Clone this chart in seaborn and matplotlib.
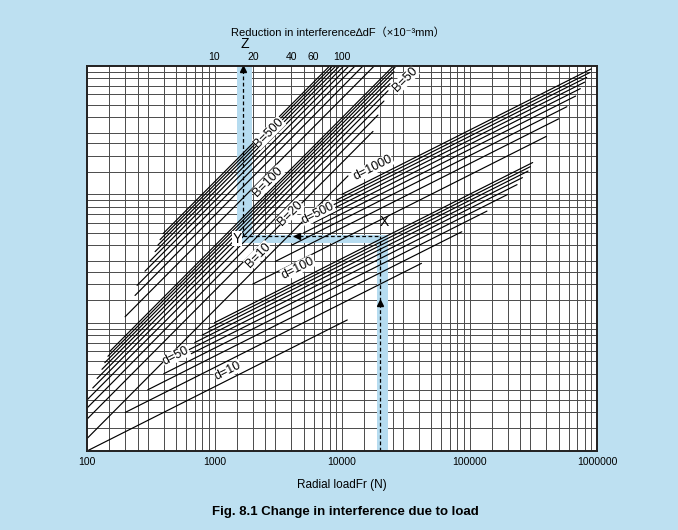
import numpy as np
import pandas as pd
import matplotlib
matplotlib.use("Agg")
import matplotlib.pyplot as plt
import seaborn as sns

sns.set_theme(style="white")
plt.rcParams["font.family"] = ["Liberation Sans", "DejaVu Sans", "Noto Sans CJK JP"]
plt.rcParams["text.color"] = "black"
plt.rcParams["xtick.color"] = "black"
plt.rcParams["axes.labelcolor"] = "black"

# ---------------- data ----------------
# d-lines (shaft diameter): start/end of each line as (Fr, y) on the unlabeled y scale
d_values = [10, 20, 30, 40, 50, 60, 70, 80, 90, 100,
            200, 300, 400, 500, 600, 700, 800, 900, 1000]
d_fr_start = [100, 200, 300, 400, 500, 600, 700, 800, 900, 1000,
              2000, 3000, 4000, 5000, 6000, 7000, 8000, 9000, 10000]
d_y_start = [10, 20, 30, 40, 50, 60, 70, 80, 90, 100,
             200, 300, 400, 500, 600, 700, 800, 900, 1000]
d_fr_end = [11000, 42000, 87000, 137000, 200000, 236000, 260000, 288000, 300000, 313000,
            400000, 500000, 580000, 680000, 740000, 800000, 830000, 880000, 900000]
d_y_end = [105, 290, 511, 740, 1000, 1190, 1349, 1518, 1643, 1769,
           2828, 3873, 4817, 5831, 6663, 7483, 8149, 8899, 9487]

# B-lines (bearing width): start/end as (position on Fr scale, y)
B_values = [10, 20, 30, 40, 50, 60, 70, 80, 90, 100,
            200, 300, 400, 500, 600, 700, 800, 900, 1000]
B_fr_start = [100, 100, 100, 100, 111, 120, 131, 138, 146, 151,
              199, 238, 247, 285, 312, 342, 360, 374, 395]
B_y_start = [12.5, 17.7, 21.6, 25.0, 31.0, 36.7, 43.3, 48.8, 54.7, 59.7,
             111.2, 162.9, 195.3, 251.9, 302.1, 357.7, 402.5, 443.5, 493.8]
B_fr_end = [11140, 17500, 19140, 21330, 22960, 23790, 24660, 25560, 26050, 25300,
            17890, 14610, 12650, 11310, 10330, 9562, 8945, 8433, 8000]
B_y_end = [1392, 3093, 4143, 5333, 6417, 7284, 8155, 9036, 9768, 10000,
           10000, 10000, 10000, 10000, 10000, 10000, 10000, 10000, 10000]

labels_text = ["B=500", "B=100", "B=20", "B=10", "B=50",
               "d=1000", "d=500", "d=100", "d=50", "d=10"]
labels_x = [2673, 2630, 3908, 2193, 31200, 17500, 6486, 4519, 499, 1276]
labels_y = [3013, 1250, 716, 337, 7800, 1607, 716, 267, 55, 42]
labels_rot = [45, 45, 45, 45, 45, 26.7, 26.7, 26.7, 26.7, 26.7]

# worked example X -> Y -> Z
ex_fr = 20000
ex_y = 470
ex_z = 1675

bottom_ticks = [100, 1000, 10000, 100000, 1000000]
bottom_labels = ["100", "1000", "10000", "100000", "1000000"]
top_ticks = [10, 20, 40, 60, 100]

grid_mult = [1, 1.5, 2, 2.5, 3, 4, 5, 6, 7, 8, 9]

BG = "#bde0f1"
BAND = "#b6dcf0"

# ---------------- figure ----------------
fig = plt.figure(figsize=(6.78, 5.30), dpi=100)
fig.patch.set_facecolor(BG)
ax = fig.add_axes([87 / 678, 1 - 451 / 530, 510 / 678, 385 / 530])
ax.set_facecolor("white")
ax.set_xscale("log")
ax.set_yscale("log")
ax.set_xlim(100, 1e6)
ax.set_ylim(10, 1e4)

# grid
for k in range(2, 6):
    for m in grid_mult:
        v = m * 10 ** k
        if 100 < v < 1e6:
            ax.axvline(v, color="#4a4a4a", lw=0.7, zorder=1)
for k in range(1, 4):
    for m in grid_mult:
        v = m * 10 ** k
        if 10 < v < 1e4:
            ax.axhline(v, color="#4a4a4a", lw=0.7, zorder=1)

# highlight bands
ax.fill_between([1500, 1968], 418, 1e4, color=BAND, lw=0, zorder=2)
ax.fill_between([1500, 22960], 418, 483, color=BAND, lw=0, zorder=2)
ax.fill_between([18840, 22960], 10, 483, color=BAND, lw=0, zorder=2)

# lines
rows = []
for i, d in enumerate(d_values):
    rows.append(dict(line=f"d{d}", x=d_fr_start[i], y=d_y_start[i]))
    rows.append(dict(line=f"d{d}", x=d_fr_end[i], y=d_y_end[i]))
for i, b in enumerate(B_values):
    rows.append(dict(line=f"B{b}", x=B_fr_start[i], y=B_y_start[i]))
    rows.append(dict(line=f"B{b}", x=B_fr_end[i], y=B_y_end[i]))
df = pd.DataFrame(rows)
sns.lineplot(data=df, x="x", y="y", units="line", estimator=None, sort=False,
             color="black", lw=0.85, ax=ax, zorder=4)

# labels
for t, x, y, r in zip(labels_text, labels_x, labels_y, labels_rot):
    ax.text(x, y, t, rotation=r, rotation_mode="anchor", ha="center", va="center",
            fontsize=9, zorder=6,
            bbox=dict(facecolor="white", edgecolor="none", pad=0.2))

# worked example path
dash = dict(color="black", lw=0.9, ls=(0, (3, 2)), zorder=5)
ax.plot([ex_fr, ex_fr], [10, ex_y], **dash)
ax.plot([ex_z, ex_fr], [ex_y, ex_y], **dash)
ax.plot([ex_z, ex_z], [ex_y, 1e4], **dash)
ax.plot([ex_fr], [142], marker="^", ms=4.5, color="black", zorder=6)
ax.plot([4436], [ex_y], marker="<", ms=4.5, color="black", zorder=6)
ax.plot([ex_z], [9500], marker="^", ms=4.5, color="black", zorder=6)
ax.text(ex_fr * 1.08, ex_y * 1.3, "X", fontsize=10, ha="center", va="center", zorder=6)
ax.text(ex_z * 0.9, ex_y * 0.96, "Y", fontsize=10, ha="center", va="center", zorder=6,
        bbox=dict(facecolor="white", edgecolor="none", pad=0.2))

ax.set_xticks(bottom_ticks)
ax.set_xticklabels(bottom_labels, fontsize=7.5)
ax.minorticks_off()
ax.set_yticks([])
ax.set_ylabel("")
ax.tick_params(axis="x", length=0, pad=4)
ax.set_xlabel("Radial loadFr (N)", fontsize=8.5, labelpad=9)
for s in ax.spines.values():
    s.set_color("black")
    s.set_linewidth(1.2)

top = ax.twiny()
top.set_xscale("log")
top.set_xlim(1, 1e4)
top.set_xticks(top_ticks)
top.set_xticklabels([str(t) for t in top_ticks], fontsize=7.5)
top.minorticks_off()
top.tick_params(axis="x", length=0, pad=3)

fig.text(338 / 678, 1 - 33 / 530, "Reduction in interference\u2206dF\uff08\u00d710\u207b\u00b3mm\uff09",
         ha="center", va="center", fontsize=8)
fig.text(245 / 678, 1 - 44 / 530, "Z", ha="center", va="center", fontsize=10)
fig.text(345 / 678, 1 - 512 / 530, "Fig. 8.1 Change in interference due to load",
         ha="center", va="center", fontsize=9.5, fontweight="bold")

fig.savefig("out.png", dpi=100, facecolor=BG)
